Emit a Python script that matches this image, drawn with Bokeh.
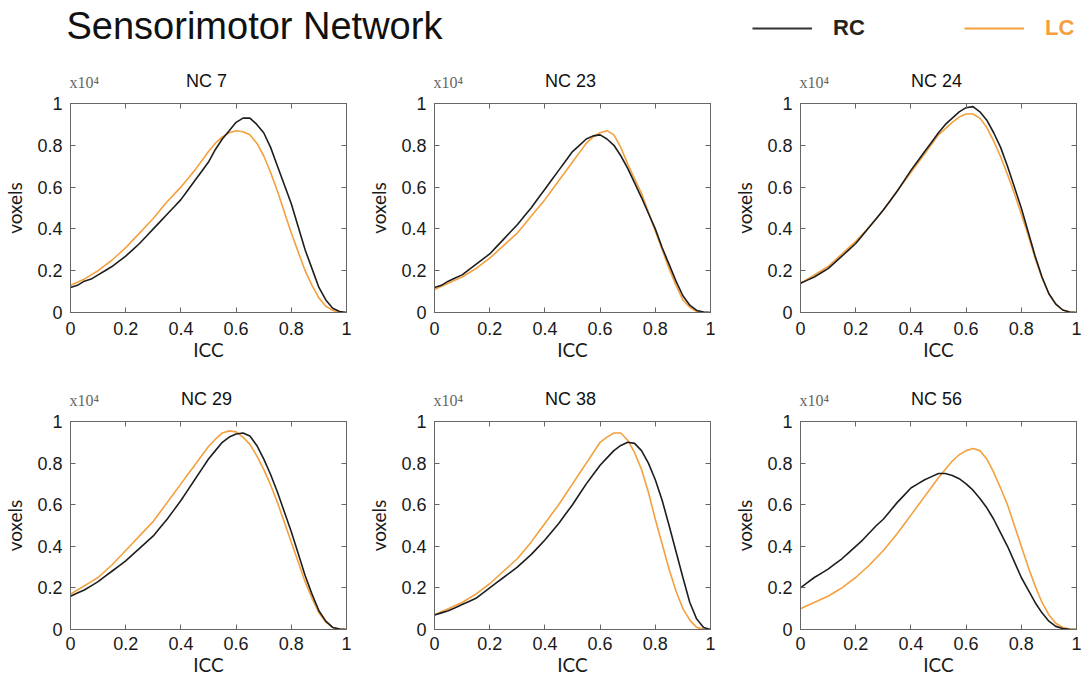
from bokeh.plotting import figure
from bokeh.layouts import column, row
from bokeh.models import (Range1d, FixedTicker, LinearAxis, Label, Legend,
                          LegendItem, CustomJSTickFormatter)
from bokeh.embed import file_html
from bokeh.resources import INLINE

# ---------------- data ----------------
TITLE = "Sensorimotor Network"
SERIES = ["RC", "LC"]
PANELS = ["NC 7", "NC 23", "NC 24", "NC 29", "NC 38", "NC 56"]
ICC = [0.0, 0.025, 0.05, 0.075, 0.1, 0.125, 0.15, 0.175, 0.2, 0.225,
       0.25, 0.275, 0.3, 0.325, 0.35, 0.375, 0.4, 0.425, 0.45, 0.475,
       0.5, 0.525, 0.55, 0.575, 0.6, 0.625, 0.65, 0.675, 0.7, 0.725,
       0.75, 0.775, 0.8, 0.825, 0.85, 0.875, 0.9, 0.925, 0.95, 0.975, 1.0]
TICKS = [0, 0.2, 0.4, 0.6, 0.8, 1]
SCALE_TEXT = "x10\u2074"
X_LABEL = "ICC"
Y_LABEL = "voxels"

# voxel counts in units of 10^4
rc_nc7 = [0.12, 0.13, 0.15, 0.16, 0.18, 0.20, 0.22, 0.245, 0.27, 0.30,
          0.33, 0.365, 0.40, 0.435, 0.47, 0.505, 0.54, 0.585, 0.63, 0.675,
          0.72, 0.78, 0.83, 0.87, 0.91, 0.93, 0.93, 0.90, 0.86, 0.79,
          0.70, 0.61, 0.52, 0.41, 0.30, 0.21, 0.12, 0.06, 0.02, 0.005, 0.0]
lc_nc7 = [0.13, 0.145, 0.16, 0.18, 0.20, 0.225, 0.25, 0.28, 0.31, 0.345,
          0.38, 0.415, 0.45, 0.49, 0.53, 0.565, 0.60, 0.64, 0.68, 0.725,
          0.77, 0.81, 0.84, 0.86, 0.87, 0.865, 0.85, 0.81, 0.75, 0.67,
          0.58, 0.48, 0.38, 0.29, 0.20, 0.13, 0.07, 0.03, 0.01, 0.002, 0.0]
rc_nc23 = [0.12, 0.13, 0.15, 0.165, 0.18, 0.205, 0.23, 0.255, 0.28, 0.315,
           0.35, 0.385, 0.42, 0.46, 0.50, 0.545, 0.59, 0.635, 0.68, 0.725,
           0.77, 0.80, 0.83, 0.845, 0.85, 0.83, 0.80, 0.75, 0.69, 0.62,
           0.55, 0.475, 0.40, 0.31, 0.23, 0.15, 0.08, 0.035, 0.01, 0.002, 0.0]
lc_nc23 = [0.11, 0.125, 0.14, 0.155, 0.17, 0.19, 0.21, 0.235, 0.26, 0.29,
           0.32, 0.35, 0.38, 0.42, 0.46, 0.50, 0.54, 0.585, 0.63, 0.675,
           0.72, 0.765, 0.81, 0.84, 0.86, 0.87, 0.85, 0.79, 0.71, 0.64,
           0.57, 0.48, 0.39, 0.30, 0.21, 0.13, 0.06, 0.025, 0.005, 0.001, 0.0]
rc_nc24 = [0.14, 0.155, 0.17, 0.19, 0.21, 0.24, 0.27, 0.30, 0.33, 0.37,
           0.41, 0.45, 0.49, 0.535, 0.58, 0.63, 0.68, 0.725, 0.77, 0.815,
           0.86, 0.90, 0.93, 0.96, 0.98, 0.985, 0.96, 0.92, 0.86, 0.79,
           0.70, 0.60, 0.50, 0.385, 0.27, 0.17, 0.09, 0.04, 0.012, 0.002, 0.0]
lc_nc24 = [0.14, 0.16, 0.18, 0.20, 0.22, 0.25, 0.28, 0.31, 0.34, 0.375,
           0.41, 0.45, 0.49, 0.535, 0.58, 0.625, 0.67, 0.715, 0.76, 0.805,
           0.85, 0.88, 0.91, 0.935, 0.95, 0.95, 0.93, 0.885, 0.82, 0.745,
           0.66, 0.57, 0.47, 0.37, 0.26, 0.165, 0.09, 0.04, 0.012, 0.002, 0.0]
rc_nc29 = [0.16, 0.175, 0.19, 0.21, 0.23, 0.255, 0.28, 0.305, 0.33, 0.36,
           0.39, 0.42, 0.45, 0.49, 0.53, 0.575, 0.62, 0.67, 0.72, 0.77,
           0.82, 0.86, 0.90, 0.925, 0.94, 0.945, 0.93, 0.885, 0.82, 0.745,
           0.66, 0.565, 0.47, 0.365, 0.26, 0.17, 0.09, 0.04, 0.01, 0.002, 0.0]
lc_nc29 = [0.17, 0.19, 0.21, 0.23, 0.25, 0.28, 0.31, 0.345, 0.38, 0.415,
           0.45, 0.485, 0.52, 0.565, 0.61, 0.655, 0.70, 0.745, 0.79, 0.835,
           0.88, 0.915, 0.945, 0.955, 0.95, 0.925, 0.89, 0.835, 0.77, 0.695,
           0.61, 0.515, 0.42, 0.325, 0.23, 0.15, 0.08, 0.035, 0.01, 0.002, 0.0]
rc_nc38 = [0.07, 0.08, 0.09, 0.105, 0.12, 0.135, 0.15, 0.175, 0.20, 0.225,
           0.25, 0.275, 0.30, 0.33, 0.36, 0.395, 0.43, 0.47, 0.51, 0.555,
           0.60, 0.65, 0.70, 0.745, 0.79, 0.825, 0.86, 0.885, 0.90, 0.895,
           0.86, 0.80, 0.72, 0.62, 0.50, 0.375, 0.25, 0.13, 0.05, 0.01, 0.0]
lc_nc38 = [0.07, 0.085, 0.10, 0.115, 0.13, 0.15, 0.17, 0.195, 0.22, 0.25,
           0.28, 0.31, 0.34, 0.38, 0.42, 0.465, 0.51, 0.555, 0.60, 0.65,
           0.70, 0.75, 0.80, 0.85, 0.90, 0.925, 0.945, 0.945, 0.91, 0.85,
           0.77, 0.66, 0.53, 0.41, 0.29, 0.185, 0.10, 0.045, 0.01, 0.002, 0.0]
rc_nc56 = [0.20, 0.225, 0.25, 0.27, 0.29, 0.315, 0.34, 0.37, 0.40, 0.43,
           0.465, 0.50, 0.53, 0.57, 0.61, 0.645, 0.68, 0.70, 0.72, 0.735,
           0.75, 0.75, 0.74, 0.725, 0.70, 0.67, 0.63, 0.585, 0.53, 0.465,
           0.40, 0.325, 0.25, 0.19, 0.13, 0.08, 0.04, 0.015, 0.005, 0.001, 0.0]
lc_nc56 = [0.10, 0.115, 0.13, 0.145, 0.16, 0.18, 0.20, 0.225, 0.25, 0.28,
           0.31, 0.345, 0.38, 0.42, 0.46, 0.505, 0.55, 0.595, 0.64, 0.685,
           0.73, 0.77, 0.81, 0.84, 0.86, 0.87, 0.86, 0.82, 0.755, 0.68,
           0.60, 0.50, 0.40, 0.30, 0.21, 0.13, 0.07, 0.03, 0.01, 0.002, 0.0]

RC_DATA = [rc_nc7, rc_nc23, rc_nc24, rc_nc29, rc_nc38, rc_nc56]
LC_DATA = [lc_nc7, lc_nc23, lc_nc24, lc_nc29, lc_nc38, lc_nc56]

# ---------------- style / layout ----------------
RC_COLOR = "#1e1e1e"
LC_COLOR = "#f4a03e"
RC_TEXT = "#24241a"
FRAME = "#666666"
SANS = "Liberation Sans"
LABEL_FONT = "Lato"

W = 1090
HEAD_H = 91          # header strip (title, legend, row-1 panel captions)
MID_H = 44           # strip between rows (row-2 panel captions)
TOP = 12             # panel border above frame (room for the "1" tick label)
# panel height, bottom border, tick-label standoff, axis-label standoff
ROW1 = (274, 53, 9, 0)
ROW2 = (271, 51, 7, 0)
COLS = [(364, 66, 18), (366, 66, 20), (360, 66, 14)]   # width, left, right
FRAME_W = 280
CAP_NC = 22.5        # caption centre above frame top (px)
CAP_SCALE = 21.5     # "x10^4" centre above frame top (px)


def make_panel(rc, lc, w, h, left, right, top, bottom, tick_so, lab_so):
    p = figure(width=w, height=h, x_range=Range1d(0, 1), y_range=Range1d(0, 1),
               toolbar_location=None, output_backend="svg",
               min_border_left=left, min_border_right=right,
               min_border_top=top, min_border_bottom=bottom)
    p.grid.visible = False
    p.outline_line_color = FRAME
    fmt = CustomJSTickFormatter(code="return (Math.round(tick*10)/10).toString();")
    for ax in (p.xaxis[0], p.yaxis[0]):
        ax.ticker = FixedTicker(ticks=TICKS)
        ax.formatter = fmt
        ax.major_tick_in = 5
        ax.major_tick_out = 0
        ax.minor_tick_line_color = None
        ax.axis_line_color = FRAME
        ax.major_tick_line_color = FRAME
        ax.major_label_text_font = SANS
        ax.major_label_text_font_size = "18px"
        ax.major_label_text_color = "#1a1a1a"
        ax.axis_label_text_font = LABEL_FONT
        ax.axis_label_text_font_size = "19px"
        ax.axis_label_text_font_style = "normal"
        ax.axis_label_text_color = "#1a1a1a"
    p.xaxis.axis_label = X_LABEL
    p.yaxis.axis_label = Y_LABEL
    p.xaxis.major_label_standoff = tick_so
    p.xaxis.axis_label_standoff = lab_so
    p.yaxis.major_label_standoff = 8
    p.yaxis.axis_label_standoff = 8
    for side in ("above", "right"):
        ax = LinearAxis(ticker=FixedTicker(ticks=TICKS))
        ax.major_tick_in = 5
        ax.major_tick_out = 0
        ax.minor_tick_line_color = None
        ax.major_label_standoff = 0
        ax.major_label_text_font_size = "1px"
        ax.major_label_text_color = None
        ax.axis_line_color = FRAME
        ax.major_tick_line_color = FRAME
        p.add_layout(ax, side)

    p.line(ICC, lc, line_color=LC_COLOR, line_width=1.6)
    p.line(ICC, rc, line_color=RC_COLOR, line_width=1.6)
    return p


def strip(height):
    s = figure(width=W, height=height, x_range=Range1d(0, W), y_range=Range1d(0, height),
               toolbar_location=None, output_backend="svg", min_border=0)
    s.axis.visible = False
    s.grid.visible = False
    s.outline_line_color = None
    return s


def add_captions(s, names):
    x0 = 0
    for (w, l, r), name in zip(COLS, names):
        fl = x0 + l
        s.add_layout(Label(x=fl + FRAME_W / 2, y=CAP_NC - TOP, text=name,
                           text_align="center", text_baseline="middle",
                           text_font=SANS, text_font_size="18px",
                           text_color="#111111"))
        s.add_layout(Label(x=fl + 3, y=CAP_SCALE - TOP, text=SCALE_TEXT,
                           text_align="left", text_baseline="middle",
                           text_font="Liberation Serif", text_font_size="16px",
                           text_color="#666666"))
        x0 += w


# header: title, legend, row-1 captions
header = strip(HEAD_H)
header.add_layout(Label(x=66, y=HEAD_H - 25, text=TITLE, text_font=SANS,
                        text_font_size="38px", text_color="#111111",
                        text_baseline="middle"))
nan = float("nan")
r_rc = header.line(x=[nan], y=[nan], line_color="#333333", line_width=1.8)
r_lc = header.line(x=[nan], y=[nan], line_color=LC_COLOR, line_width=1.8)
for rend, lab, col, xloc in ((r_rc, SERIES[0], RC_TEXT, 752), (r_lc, SERIES[1], LC_COLOR, 964)):
    lg = Legend(items=[LegendItem(label=lab, renderers=[rend])],
                location=(xloc, HEAD_H - 28 - 13),
                glyph_width=60, glyph_height=26, label_height=26, label_standoff=21,
                padding=0, margin=0, spacing=0, border_line_color=None,
                background_fill_alpha=0, label_text_font=SANS,
                label_text_font_size="22px", label_text_font_style="bold",
                label_text_color=col)
    header.add_layout(lg, "center")
add_captions(header, PANELS[:3])

mid = strip(MID_H)
add_captions(mid, PANELS[3:])

rows = []
for r_i, (h, bottom, tick_so, lab_so) in enumerate((ROW1, ROW2)):
    figs = []
    for c_i, (w, l, r) in enumerate(COLS):
        k = r_i * 3 + c_i
        figs.append(make_panel(RC_DATA[k], LC_DATA[k], w, h, l, r, TOP, bottom,
                               tick_so, lab_so))
    rows.append(row(*figs, spacing=0))

layout = column(header, rows[0], mid, rows[1], spacing=0)

open("out.html", "w").write(file_html(layout, INLINE))
